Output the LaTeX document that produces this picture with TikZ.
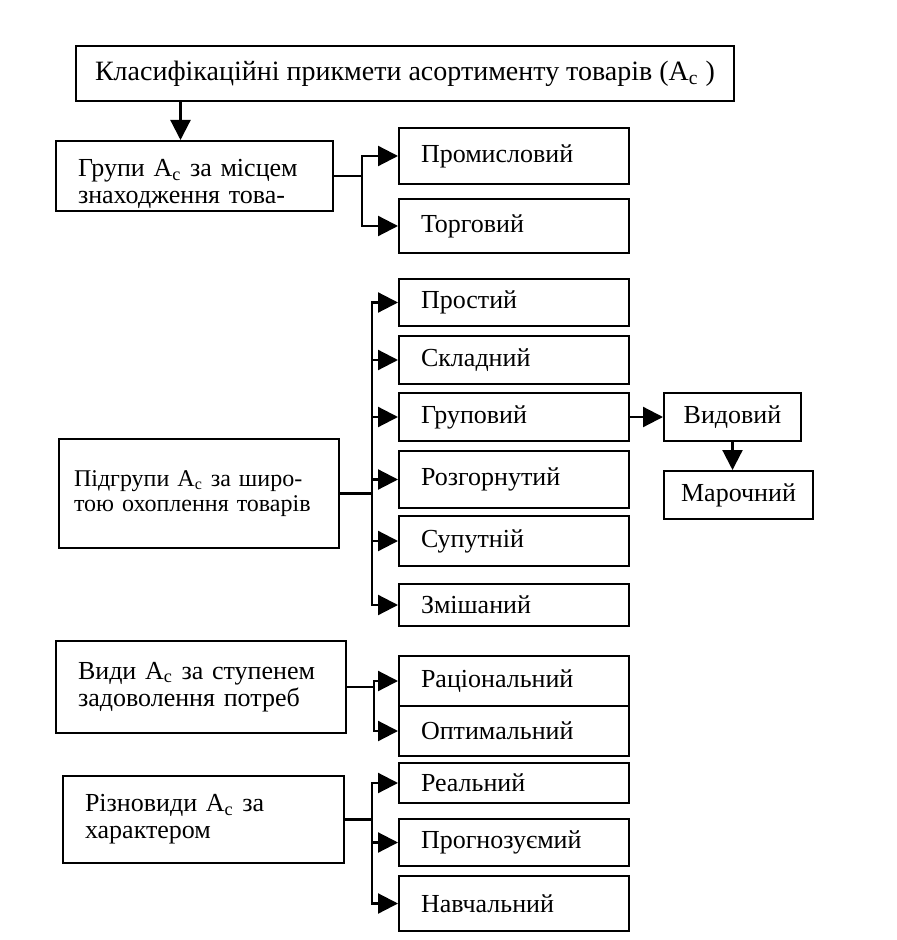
\documentclass[tikz,border=0pt]{standalone}
\usepackage{fontspec}
\setmainfont{Liberation Serif}
\usetikzlibrary{arrows.meta, positioning}

\begin{document}
\begin{tikzpicture}[x=0.5pt, y=-0.5pt,
    every node/.style={font=\fontsize{13pt}{13.5pt}\selectfont},
    box/.style={draw, line width=1pt, anchor=north west, inner ysep=2pt},
    item/.style={box, text width=93pt, inner xsep=11pt, align=left},
    arr/.style={line width=1.1pt, -{Triangle[length=10pt, width=10pt]}}]
        \useasboundingbox (0,0) rectangle (897,940);
        % Title
        \node[box, minimum width=329pt, minimum height=27.5pt, font=\fontsize{14pt}{15pt}\selectfont] (klas) at (75,45) {Класифікаційні прикмети асортименту товарів (A\textsubscript{c} )};
        % Groups by place
        \node[box, text width=116.5pt, inner xsep=11pt, inner ysep=0pt, minimum height=35pt, align=left] (grupy) at (55,140) {\rule{0pt}{17pt}Групи A\textsubscript{c} за місцем\\знаходження това-};
        \node[item, minimum height=28pt] (prom) at (398,127) {Промисловий};
        \node[item, minimum height=27pt] (torg) at (398,198) {Торговий};
        % Subgroups by width
        \node[box, text width=125pt, inner xsep=7.5pt, minimum height=54.5pt, align=left, font=\fontsize{12pt}{12.5pt}\selectfont] (pidgr) at (58,438) {Підгрупи A\textsubscript{c} за широ-\\тою охоплення товарів};
        \node[item, minimum height=23.5pt] (prost) at (398,278) {Простий};
        \node[item, minimum height=24pt] (sklad) at (398,335) {Складний};
        \node[item, minimum height=24pt] (grup) at (398,392) {Груповий};
        \node[item, minimum height=28.5pt] (rozg) at (398,450) {Розгорнутий};
        \node[item, minimum height=25pt] (suput) at (398,515) {Супутній};
        \node[item, minimum height=21pt] (zmish) at (398,583) {Змішаний};
        \node[box, minimum width=68.5pt, minimum height=24pt] (vyd) at (663,392) {Видовий};
        \node[box, minimum width=74.5pt, minimum height=24pt] (mar) at (663,470) {Марочний};
        % Kinds by needs
        \node[box, text width=123pt, inner xsep=11pt, minimum height=46pt, align=left] (vydy) at (55,640) {Види A\textsubscript{c} за ступенем\\задоволення потреб};
        \node[item, minimum height=25pt] (rac) at (398,655) {Раціональний};
        \node[item, minimum height=25pt] (opt) at (398,705) {Оптимальний};
        % Varieties by character
        \node[box, text width=118.5pt, inner xsep=11pt, minimum height=43.5pt, align=left] (rizn) at (62,775) {Різновиди A\textsubscript{c} за\\характером};
        \node[item, minimum height=20pt] (real) at (398,762) {Реальний};
        \node[item, minimum height=23.5pt] (progn) at (398,818) {Прогнозуємий};
        \node[item, minimum height=27.5pt] (navch) at (398,875) {Навчальний};
        % Arrows
        \draw[arr] ([xshift=-7pt]grupy.north |- klas.south) -- ([xshift=-7pt]grupy.north);
        \draw[arr] (grupy.east) -- ++(14pt,0) |- (prom.west);
        \draw[arr] (grupy.east) -- ++(14pt,0) |- (torg.west);
        \foreach \n in {prost, sklad, grup, rozg, suput, zmish}
            \draw[arr] (pidgr.east) -- ++(16pt,0) |- (\n.west);
        \draw[arr] (grup.east) -- (vyd.west);
        \draw[arr] (vyd.south) -- (vyd.south |- mar.north);
        \foreach \n in {rac, opt}
            \draw[arr] (vydy.east) -- ++(13.5pt,0) |- (\n.west);
        \foreach \n in {real, progn, navch}
            \draw[arr] (rizn.east) -- ++(13.5pt,0) |- (\n.west);
    \end{tikzpicture}
\end{document}
